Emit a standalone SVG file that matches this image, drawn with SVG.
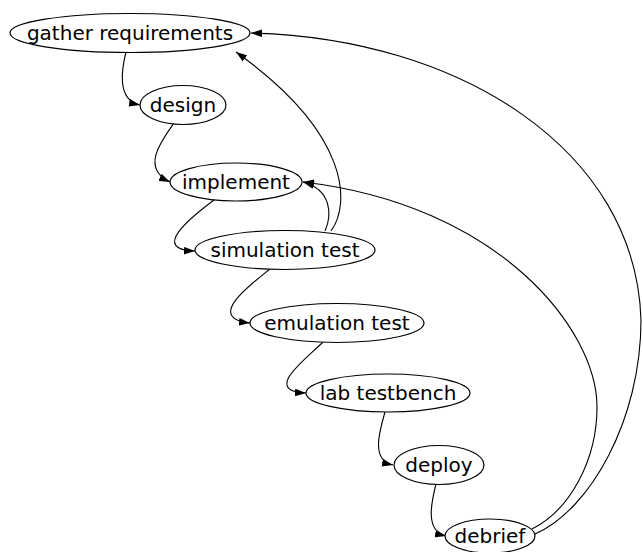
<svg xmlns="http://www.w3.org/2000/svg" width="643" height="552" viewBox="0 0 643 552">
<style>
.n ellipse{fill:#fff;stroke:#000;stroke-width:1.2}
.n text{font-family:"DejaVu Sans",sans-serif;font-size:20px;text-anchor:middle;dominant-baseline:central;fill:#000}
.e path{fill:none;stroke:#000;stroke-width:1.1}
</style>
<defs>
<marker id="ah" viewBox="0 0 10 7" refX="10" refY="3.5" markerWidth="11" markerHeight="8" markerUnits="userSpaceOnUse" orient="auto">
<path d="M0,0 L10,3.5 L0,7 z" fill="#000"/>
</marker>
</defs>
<g id="edges" class="e">
<path marker-end="url(#ah)" d="M126,52 C122,68 116,100 140,105"/>
<path marker-end="url(#ah)" d="M174,123 C162,140 140,168 170,182"/>
<path marker-end="url(#ah)" d="M214,200 C190,218 150,250 195,251"/>
<path marker-end="url(#ah)" d="M270,269 C250,285 205,318 250,323"/>
<path marker-end="url(#ah)" d="M323,342 C305,360 262,391 306,393"/>
<path marker-end="url(#ah)" d="M385,412 C380,430 370,460 393,465"/>
<path marker-end="url(#ah)" d="M436,484 C432,500 424,531 446,536"/>
<path marker-end="url(#ah)" d="M325,231 C332,215 332,190 303,182"/>
<path marker-end="url(#ah)" d="M331,231 C350,205 352,135 236,52"/>
<path marker-end="url(#ah)" d="M532,529 C570,510 597,460 597,407 C597,330 500,205 303,182"/>
<path marker-end="url(#ah)" d="M535,534 C590,510 641,420 641,320 C636,150 460,38 251,33"/>
</g>
<g id="n-gather" class="n"><ellipse cx="130" cy="33" rx="120" ry="19.5"/><text x="130" y="33">gather requirements</text></g>
<g id="n-design" class="n"><ellipse cx="183" cy="105" rx="43" ry="19.5"/><text x="183" y="105">design</text></g>
<g id="n-implement" class="n"><ellipse cx="236" cy="182" rx="66" ry="19"/><text x="236" y="182">implement</text></g>
<g id="n-simulation" class="n"><ellipse cx="285" cy="250" rx="90" ry="19.5"/><text x="285" y="250">simulation test</text></g>
<g id="n-emulation" class="n"><ellipse cx="337" cy="323" rx="87" ry="19.5"/><text x="337" y="323">emulation test</text></g>
<g id="n-lab" class="n"><ellipse cx="388" cy="393" rx="82" ry="19"/><text x="388" y="393">lab testbench</text></g>
<g id="n-deploy" class="n"><ellipse cx="439" cy="465" rx="45" ry="19.5"/><text x="439" y="465">deploy</text></g>
<g id="n-debrief" class="n"><ellipse cx="490" cy="536" rx="45" ry="17"/><text x="490" y="536">debrief</text></g>
</svg>
